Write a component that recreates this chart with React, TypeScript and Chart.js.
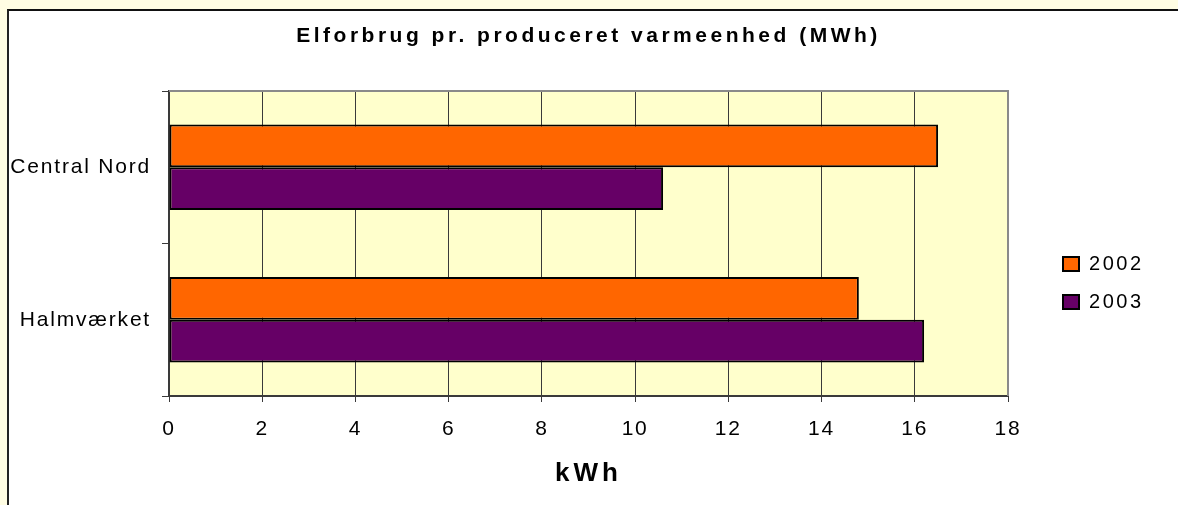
import React, { useEffect, useRef } from 'react';
import { Chart, registerables } from 'chart.js';

Chart.register(...registerables);

const categories = ['Central Nord', 'Halmværket'];
const seriesLabels = ['2002', '2003'];
const values2002 = [16.5, 14.8];
const values2003 = [10.6, 16.2];
const xTickValues = [0, 2, 4, 6, 8, 10, 12, 14, 16, 18];
const chartTitle = 'Elforbrug pr. produceret varmeenhed (MWh)';
const xAxisTitle = 'kWh';

const FONT = "'Liberation Sans', Arial, sans-serif";

function withSpacing(ctx: any, sp: string, fn: () => any) {
  const prev = ctx.letterSpacing;
  ctx.letterSpacing = sp;
  try {
    return fn();
  } finally {
    ctx.letterSpacing = prev;
  }
}

const spacingPlugin = {
  id: 'letterSpacing',
  afterInit(chart: any) {
    const tb = chart.titleBlock;
    if (tb && !tb.__patched) {
      const d = tb.draw.bind(tb);
      tb.draw = (...a: any[]) => withSpacing(chart.ctx, '3.5px', () => d(...a));
      tb.__patched = true;
    }
    const lg = chart.legend;
    if (lg && !lg.__patched) {
      const d = lg.draw.bind(lg);
      const f = lg.fit.bind(lg);
      lg.draw = (...a: any[]) => withSpacing(chart.ctx, '2.5px', () => d(...a));
      lg.fit = (...a: any[]) => withSpacing(chart.ctx, '2.5px', () => f(...a));
      lg.__patched = true;
    }
  },
  afterLayout(chart: any) {
    Object.values(chart.scales).forEach((s: any) => {
      if (s.__patched) return;
      const dl = s.drawLabels.bind(s);
      const dt = s.drawTitle.bind(s);
      s.drawLabels = (...a: any[]) => withSpacing(chart.ctx, '1.8px', () => dl(...a));
      s.drawTitle = (...a: any[]) => withSpacing(chart.ctx, '4px', () => dt(...a));
      s.__patched = true;
    });
  },
};

const plotAreaPlugin = {
  id: 'plotArea',
  beforeDraw(chart: any) {
    const { ctx, chartArea: a } = chart;
    ctx.save();
    ctx.fillStyle = '#FFFFCC';
    ctx.fillRect(a.left, a.top, a.right - a.left, a.bottom - a.top);
    ctx.restore();
  },
  beforeDatasetsDraw(chart: any) {
    const { ctx, chartArea: a } = chart;
    ctx.save();
    ctx.strokeStyle = '#8a8a8a';
    ctx.lineWidth = 2;
    ctx.beginPath();
    ctx.moveTo(a.left, a.top);
    ctx.lineTo(a.right, a.top);
    ctx.lineTo(a.right, a.bottom);
    ctx.stroke();
    ctx.restore();
  },
};

export default function App() {
  const ref = useRef<HTMLCanvasElement>(null);

  useEffect(() => {
    if (!ref.current) return;
    const chart = new Chart(ref.current, {
      type: 'bar',
      data: {
        labels: categories,
        datasets: [
          {
            label: seriesLabels[0],
            data: values2002,
            backgroundColor: '#FF6600',
            borderColor: '#000000',
            borderWidth: 2,
            borderSkipped: false,
            xAxisID: 'x',
            yAxisID: 'y',
          },
          {
            label: seriesLabels[1],
            data: values2003,
            backgroundColor: '#660066',
            borderColor: '#000000',
            borderWidth: 2,
            borderSkipped: false,
            xAxisID: 'x',
            yAxisID: 'y',
          },
        ],
      },
      options: {
        indexAxis: 'y',
        responsive: false,
        animation: false,
        events: [],
        layout: { padding: { left: 0, top: 0, right: 24.5, bottom: 0 } },
        datasets: {
          bar: { categoryPercentage: 0.56, barPercentage: 1.0 },
        },
        scales: {
          y: {
            type: 'category',
            position: 'left',
            offset: true,
            grid: {
              offset: true,
              drawOnChartArea: false,
              drawTicks: true,
              tickLength: 7,
              color: '#3a3a3a',
              lineWidth: 1,
            },
            border: { display: true, color: '#3a3a3a', width: 2 },
            ticks: {
              padding: 11,
              color: '#000',
              font: { family: FONT, size: 21 },
            },
            afterFit: (s: any) => {
              s.width = 160;
            },
          },
          yR: {
            type: 'linear',
            position: 'right',
            display: true,
            grid: { display: false, drawTicks: false },
            border: { display: false },
            ticks: { display: false },
            afterFit: (s: any) => {
              s.width = 37;
            },
          },
          x: {
            type: 'linear',
            position: 'bottom',
            min: 0,
            max: 18,
            afterBuildTicks: (s: any) => {
              s.ticks = xTickValues.map((v) => ({ value: v }));
            },
            grid: {
              color: '#3a3a3a',
              lineWidth: 1,
              drawTicks: true,
              tickLength: 6,
            },
            border: { display: true, color: '#3a3a3a', width: 2 },
            ticks: {
              padding: 14.5,
              color: '#000',
              font: { family: FONT, size: 21 },
            },
            title: {
              display: true,
              text: xAxisTitle,
              color: '#000',
              font: { family: FONT, size: 26, weight: 'bold' },
              padding: { top: 0, bottom: 16 },
            },
            afterFit: (s: any) => {
              s.height = 109;
            },
          },
        },
        plugins: {
          title: {
            display: true,
            text: chartTitle,
            fullSize: false,
            color: '#000',
            font: { family: FONT, size: 21, weight: 'bold' },
            padding: { top: 12.8, bottom: 42 },
          },
          legend: {
            display: true,
            position: 'right',
            align: 'center',
            fullSize: false,
            title: {
              display: true,
              text: ' ',
              font: { family: FONT, size: 10 },
              padding: { top: 0, bottom: 67 },
            },
            labels: {
              boxWidth: 16,
              boxHeight: 14,
              padding: 18,
              color: '#000',
              font: { family: FONT, size: 20 },
            },
          },
          tooltip: { enabled: false },
        },
      },
      plugins: [spacingPlugin, plotAreaPlugin],
    } as any);
    return () => chart.destroy();
  }, []);

  return (
    <div style={{ position: 'fixed', left: 0, top: 0, right: 0, bottom: 0, overflow: 'hidden', background: '#FFFDE3' }}>
      <div
        style={{
          position: 'absolute',
          left: 7,
          top: 9,
          width: 1300,
          height: 600,
          background: '#FFFFFF',
          borderLeft: '2px solid #222',
          borderTop: '2px solid #111',
        }}
      />
      <div style={{ position: 'absolute', left: 9, top: 11, width: 1169, height: 494 }}>
        <canvas ref={ref} width={1169} height={494} style={{ display: 'block', width: 1169, height: 494 }} />
      </div>
    </div>
  );
}
